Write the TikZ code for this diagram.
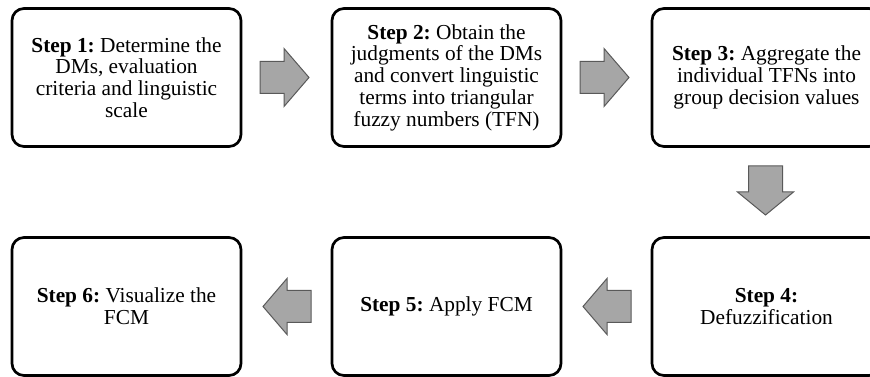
\documentclass[tikz,border=0pt]{standalone}
\usepackage{fontspec}
\setmainfont{Liberation Serif}
\usetikzlibrary{calc}
\frenchspacing

\begin{document}
\begin{tikzpicture}[x=0.75pt, y=-0.75pt,
  stepbox/.style={draw=black, line width=2pt, rounded corners=9pt, fill=white, minimum width=171.75pt, minimum height=103.5pt, outer sep=0pt, align=center, font=\fontsize{16}{16.3}\selectfont},
  blockarrow/.style={fill=black!35, draw=black!65, line width=0.75pt, line join=miter}]
\useasboundingbox (0,0) rectangle (870,377); \clip (0,0) rectangle (870,377);
\node[stepbox] (s1) at (126.5,77.5) {\textbf{Step 1:} Determine the\\DMs, evaluation\\criteria and linguistic\\scale};
\node[stepbox] (s2) at (446.5,77.5) {\textbf{Step 2:} Obtain the\\judgments of the DMs\\and convert linguistic\\terms into triangular\\fuzzy numbers (TFN)};
\node[stepbox] (s3) at (766.5,77.5) {\textbf{Step 3:} Aggregate the\\individual TFNs into\\group decision values};
\node[stepbox] (s4) at (766.5,306.5) {\textbf{Step 4:}\\Defuzzification};
\node[stepbox] (s5) at (446.5,306.5) {\textbf{Step 5:} Apply FCM};
\node[stepbox] (s6) at (126.5,306.5) {\textbf{Step 6:} Visualize the\\FCM};
\draw[blockarrow] ($(s1.east)+(19,-16)$) -- ++(24,0) -- ++(0,-13) -- ++(25,29) -- ++(-25,29) -- ++(0,-13) -- ++(-24,0) -- cycle;
\draw[blockarrow] ($(s2.east)+(19,-16)$) -- ++(24,0) -- ++(0,-13) -- ++(25,29) -- ++(-25,29) -- ++(0,-13) -- ++(-24,0) -- cycle;
\draw[blockarrow] ($(s3.south)+(-18,19.5)$) -- ++(34,0) -- ++(0,26) -- ++(11,0) -- ++(-28,23) -- ++(-28,-23) -- ++(11,0) -- cycle;
\draw[blockarrow] ($(s4.west)+(-21,-16)$) -- ++(-24,0) -- ++(0,-12) -- ++(-24,28) -- ++(24,28) -- ++(0,-12) -- ++(24,0) -- cycle;
\draw[blockarrow] ($(s5.west)+(-21,-16)$) -- ++(-24,0) -- ++(0,-12) -- ++(-24,28) -- ++(24,28) -- ++(0,-12) -- ++(24,0) -- cycle;
\end{tikzpicture}
\end{document}
